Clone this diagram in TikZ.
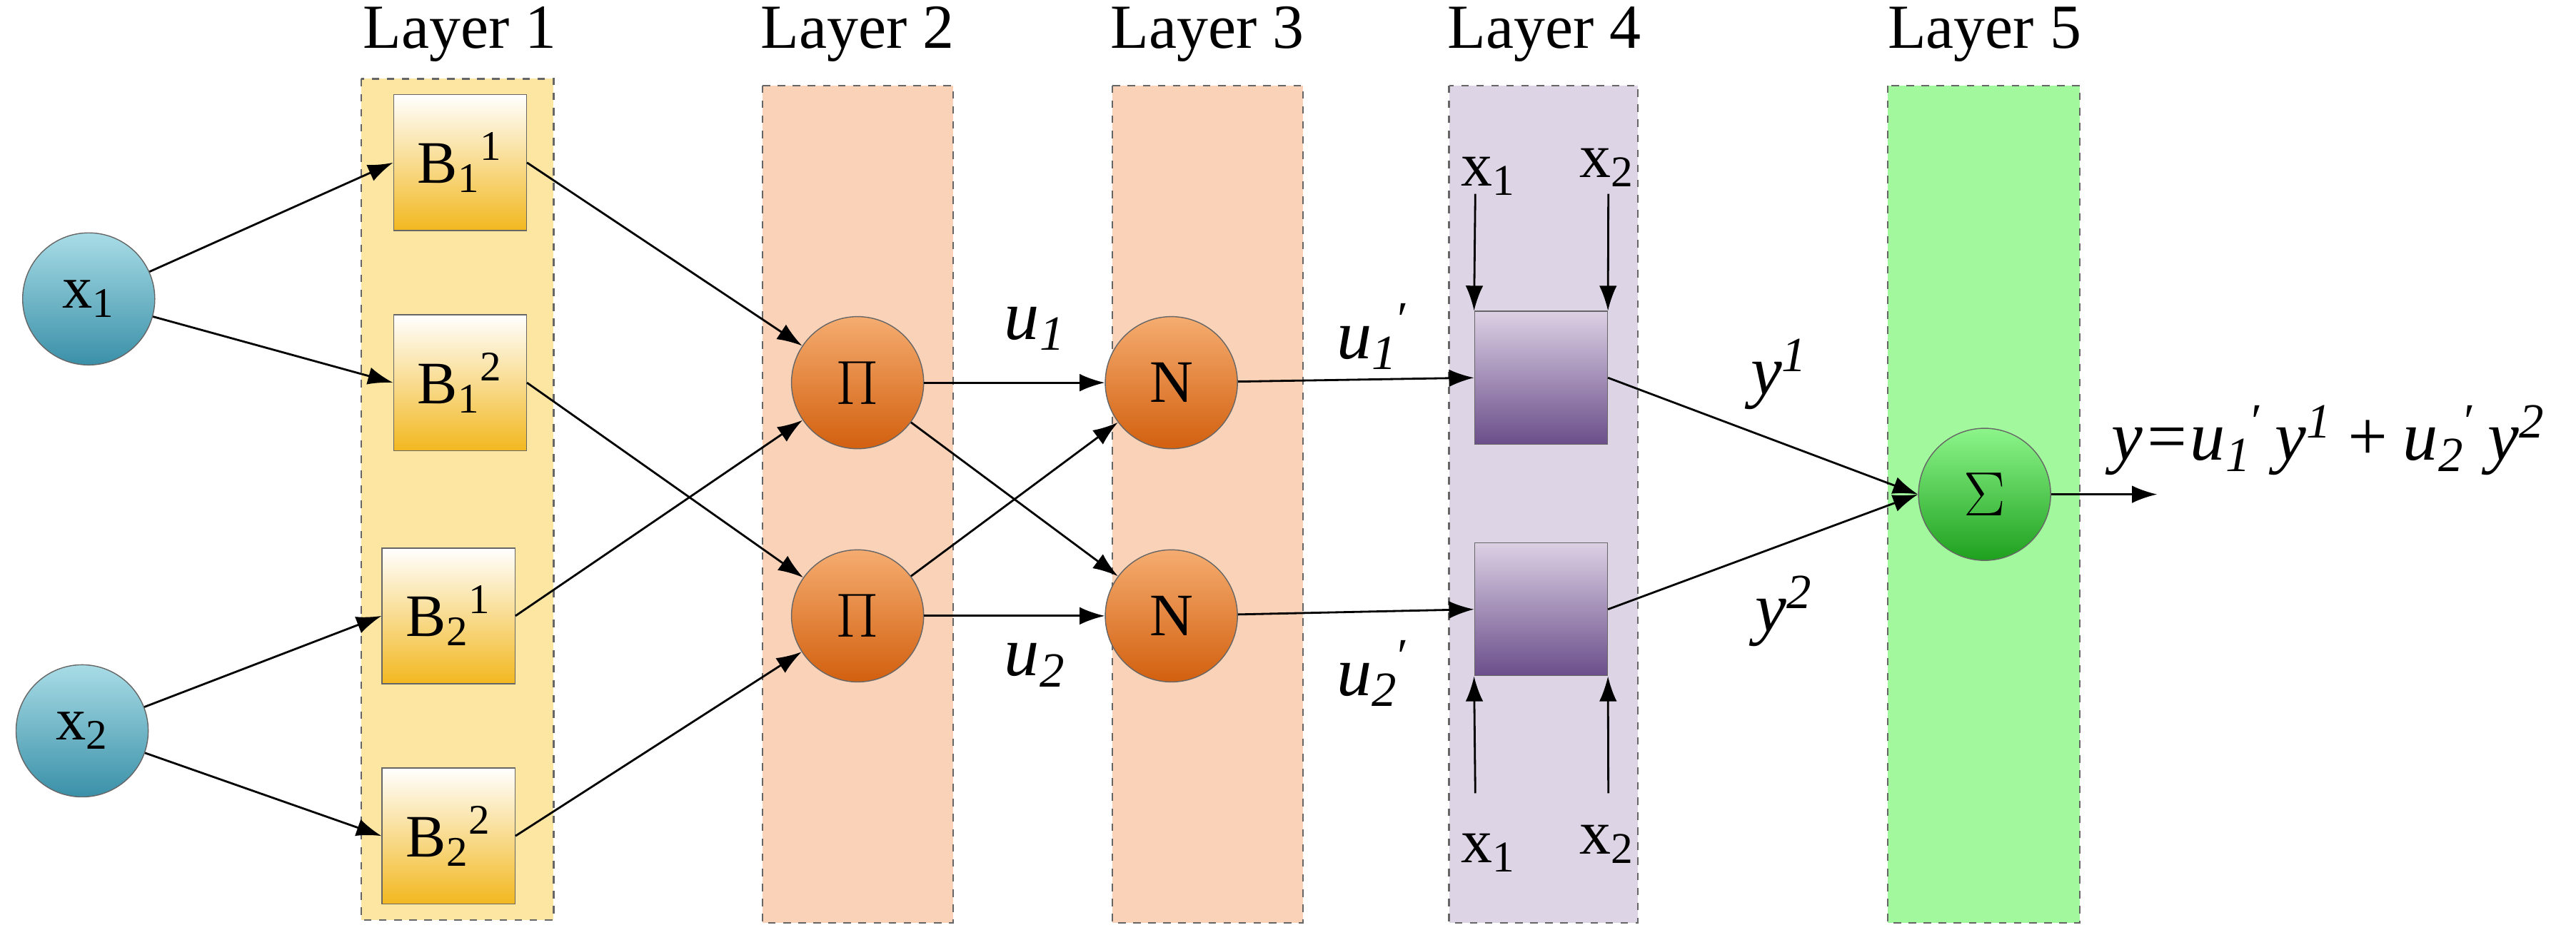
\documentclass[tikz,border=0pt]{standalone}
\usepackage{fontspec}
\setmainfont{Liberation Serif}
\usetikzlibrary{arrows.meta}
\definecolor{l1}{HTML}{FDE6A2}
\definecolor{l2}{HTML}{F9D2B8}
\definecolor{l4}{HTML}{DDD5E6}
\definecolor{l5}{HTML}{A2F89C}
\definecolor{tealA}{HTML}{A8DCE6}
\definecolor{tealB}{HTML}{3A90A8}
\definecolor{goldB}{HTML}{F2B820}
\definecolor{orA}{HTML}{F5AC70}
\definecolor{orB}{HTML}{D2600F}
\definecolor{vA}{HTML}{DCD0E4}
\definecolor{vB}{HTML}{6A4E8A}
\definecolor{gA}{HTML}{8CF58A}
\definecolor{gB}{HTML}{1EA01E}
\begin{document}
\begin{tikzpicture}[x=0.023cm,y=-0.023cm,
  layer/.style={draw=black!60,dashed,line width=0.6pt},
  lab/.style={font=\fontsize{25}{27}\selectfont},
  inp/.style={circle,draw=black!60,minimum size=1.85cm,inner sep=0pt,top color=tealA,bottom color=tealB,font=\fontsize{24}{26}\selectfont},
  bbox/.style={rectangle,draw=black!60,minimum width=1.86cm,minimum height=1.9cm,inner sep=0pt,top color=white,bottom color=goldB,font=\fontsize{24}{26}\selectfont},
  pi/.style={circle,draw=black!60,minimum size=1.85cm,inner sep=0pt,top color=orA,bottom color=orB,font=\fontsize{24}{26}\selectfont},
  pbox/.style={rectangle,draw=black!60,minimum width=1.86cm,minimum height=1.86cm,inner sep=0pt,top color=vA,bottom color=vB},
  sig/.style={circle,draw=black!60,minimum size=1.85cm,inner sep=0pt,top color=gA,bottom color=gB,font=\fontsize{28}{30}\selectfont},
  arr/.style={-{Latex[length=10pt,width=7pt]},line width=0.8pt},
  it/.style={font=\fontsize{28}{30}\selectfont\itshape}
]
\useasboundingbox (0,0) rectangle (1568,575);
% layers
\fill[l1] (220,48) rectangle (337,560);
\draw[layer] (220,48) rectangle (337,560);
\fill[l2] (464,52) rectangle (580,562);
\draw[layer] (464,52) rectangle (580,562);
\fill[l2] (677,52) rectangle (793,562);
\draw[layer] (677,52) rectangle (793,562);
\fill[l4] (882,52) rectangle (997,562);
\draw[layer] (882,52) rectangle (997,562);
\fill[l5] (1149,52) rectangle (1266,562);
\draw[layer] (1149,52) rectangle (1266,562);
\node[lab] (L1) at (280,21) {Layer 1};
\node[lab] (L2) at (522,21) {Layer 2};
\node[lab] (L3) at (735,21) {Layer 3};
\node[lab] (L4) at (940,21) {Layer 4};
\node[lab] (L5) at (1208,21) {Layer 5};
% nodes
\node[inp] (x1) at (54,182) {x\textsubscript{1}};
\node[inp] (x2) at (50,445) {x\textsubscript{2}};
\node[bbox] (b11) at (280,99) {B\textsubscript{1}\textsuperscript{1}};
\node[bbox] (b12) at (280,233) {B\textsubscript{1}\textsuperscript{2}};
\node[bbox] (b21) at (273,375) {B\textsubscript{2}\textsuperscript{1}};
\node[bbox] (b22) at (273,509) {B\textsubscript{2}\textsuperscript{2}};
\node[pi] (p1) at (522,233) {$\Pi$};
\node[pi] (p2) at (522,375) {$\Pi$};
\node[pi] (n1) at (713,233) {N};
\node[pi] (n2) at (713,375) {N};
\node[pbox] (r1) at (938,230) {};
\node[pbox] (r2) at (938,371) {};
\node[sig] (s) at (1208,301) {$\Sigma$};
\coordinate (out) at (1313,301);
\node[lab,anchor=base] (t1) at (906,113) {x\textsubscript{1}};
\node[lab,anchor=base] (t2) at (978,108) {x\textsubscript{2}};
\node[lab,anchor=base] (t3) at (906,525) {x\textsubscript{1}};
\node[lab,anchor=base] (t4) at (978,520) {x\textsubscript{2}};
\coordinate (a1) at (898,118); \coordinate (a2) at (979,118);
\coordinate (a3) at (898,483); \coordinate (a4) at (979,483);
% edges
\draw[arr] (x1) -- (b11.west);
\draw[arr] (x1) -- (b12.west);
\draw[arr] (x2) -- (b21.west);
\draw[arr] (x2) -- (b22.west);
\draw[arr] (b11.east) -- (p1);
\draw[arr] (b21.east) -- (p1);
\draw[arr] (b12.east) -- (p2);
\draw[arr] (b22.east) -- (p2);
\draw[arr] (p1) -- (n1);
\draw[arr] (p1) -- (n2);
\draw[arr] (p2) -- (n1);
\draw[arr] (p2) -- (n2);
\draw[arr] (n1) -- (r1.west);
\draw[arr] (n2) -- (r2.west);
\draw[arr] (r1.east) -- (s.west);
\draw[arr] (r2.east) -- (s.west);
\draw[arr] (s) -- (out);
\draw[arr] (a1) -- (r1.north west);
\draw[arr] (a2) -- (r1.north east);
\draw[arr] (a3) -- (r2.south west);
\draw[arr] (a4) -- (r2.south east);
% labels
\node[it] (u1) at (630,200) {u\textsubscript{1}};
\node[it] (u2) at (630,405) {u\textsubscript{2}};
\node[it] (u1p) at (836,205) {u\textsubscript{1}\textsuperscript{\upshape\char"2032}};
\node[it] (u2p) at (836,410) {u\textsubscript{2}\textsuperscript{\upshape\char"2032}};
\node[it] (y1) at (1083,228) {y\textsuperscript{1}};
\node[it] (y2) at (1086,372) {y\textsuperscript{2}};
\node[it,anchor=west] (f) at (1280,268) {y=u\textsubscript{1}\textsuperscript{\upshape\char"2032}\,y\textsuperscript{1}\,+\,u\textsubscript{2}\textsuperscript{\upshape\char"2032}\,y\textsuperscript{2}};
\end{tikzpicture}
\end{document}
